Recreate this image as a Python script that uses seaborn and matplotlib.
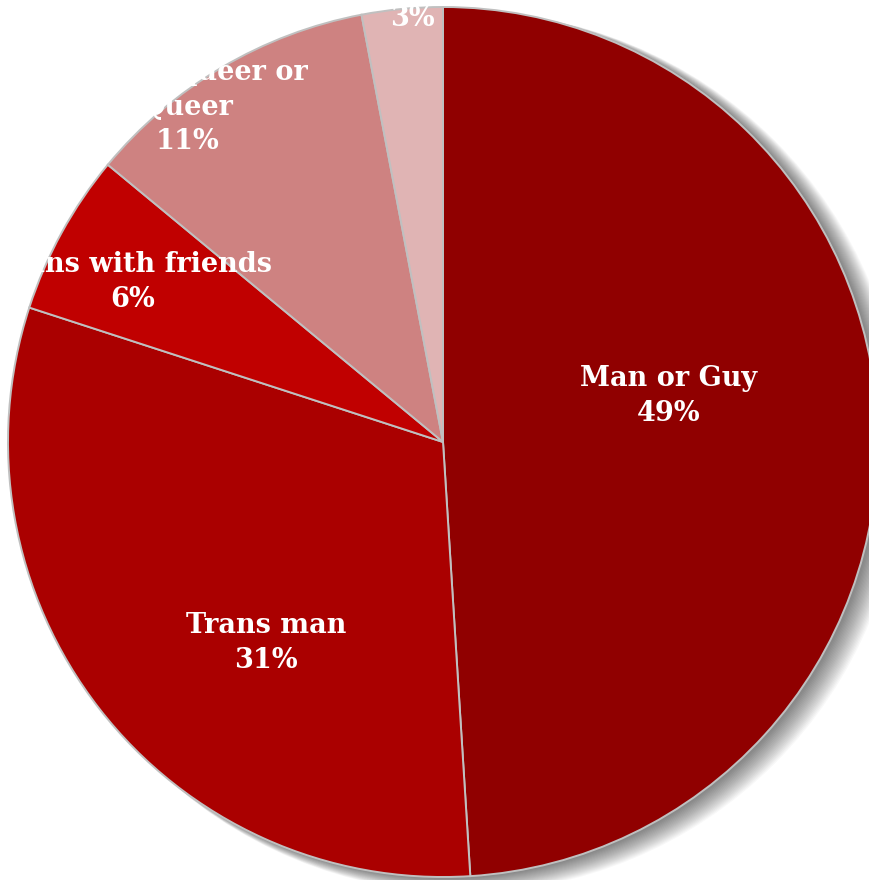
import matplotlib
matplotlib.use("Agg")
import matplotlib.pyplot as plt
from matplotlib.patches import Circle
import seaborn as sns

categories = ["Man or Guy", "Trans man", "Trans with friends", "Genderqueer or\nQueer", "Other"]
values = [49, 31, 6, 11, 3]
colors = ["#900000", "#AA0000", "#C00000", "#CE8281", "#E0B4B4"]

sns.set_theme(style="white")
plt.rcParams['font.family'] = ['DejaVu Serif', 'Liberation Serif']

W, H, DPI = 870, 880, 100
fig = plt.figure(figsize=(W / DPI, H / DPI), dpi=DPI)
ax = fig.add_axes([0, 0, 1, 1])
ax.set_axis_off()

cx, cy, R = 443, 442, 435

# soft shadow (offset to the right, slightly down)
for i in range(20):
    off = (3 + i * 0.9) / R
    ax.add_patch(Circle((off, -off * 0.5), 1.0 + i * 0.3 / R, color="black",
                        alpha=0.028, lw=0, zorder=0))

wedges, _ = ax.pie(values, colors=colors, startangle=90, counterclock=False,
                   radius=1.0, center=(0, 0),
                   wedgeprops=dict(edgecolor="#C0C0C0", linewidth=1.4))
ax.set_xlim(-cx / R, (W - cx) / R)
ax.set_ylim(-(H - cy) / R, cy / R)
ax.set_aspect("auto")

clip = Circle((0, 0), 1.0, transform=ax.transData)

def px(x, y):
    return ((x - cx) / R, (cy - y) / R)

label_pos = [(669, 396), (266, 643), (133, 282), (188, 107), (412, 1)]
for cat, v, (x, y) in zip(categories, values, label_pos):
    t = ax.text(*px(x, y), f"{cat}\n{v}%", ha="center", va="center",
                color="white", fontsize=19.5, fontweight="bold",
                linespacing=1.35, zorder=5)
    t.set_clip_path(clip)

fig.savefig("out.png", dpi=DPI)
